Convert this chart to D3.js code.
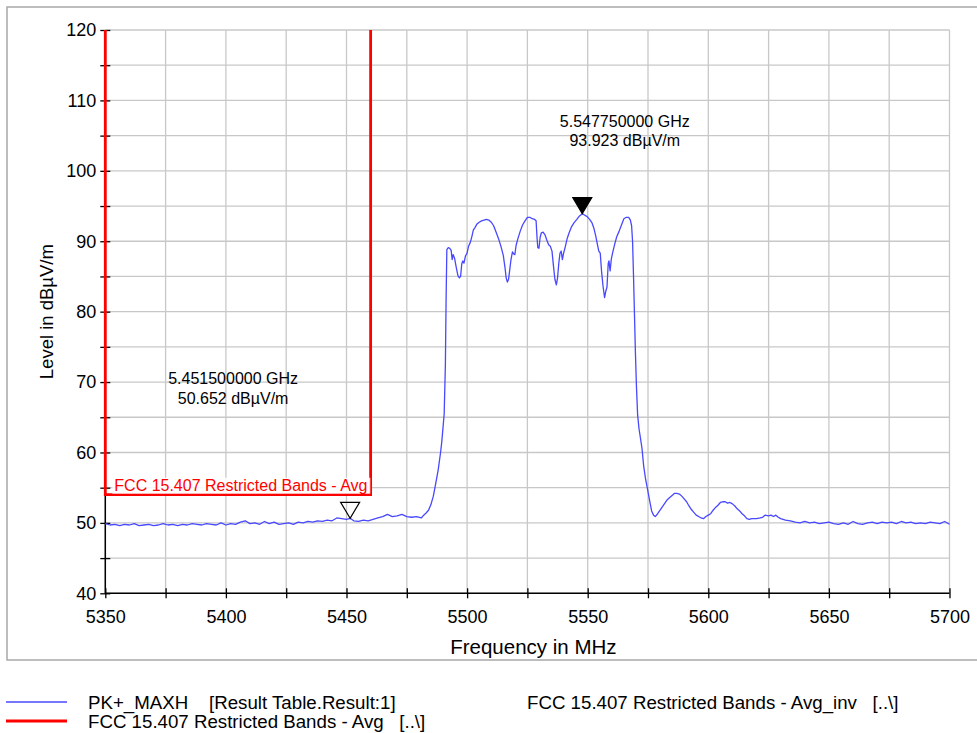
<!DOCTYPE html>
<html><head><meta charset="utf-8">
<script src="https://cdn.jsdelivr.net/npm/d3@7"></script>
<style>
body{margin:0;background:#fff;}
svg{display:block;font-family:"Liberation Sans",Arial,sans-serif;}
</style>
</head><body>
<svg id="c" width="977" height="733"></svg>
<script>
// ---- data ----
const freqMHz = [
5350,5352,5354,5356,5358,5360,5362,5364,5366,5368,5370,5372,5374,5376,5378,5380,5382,5384,5386,5388,
5390,5392,5394,5396,5398,5400,5402,5404,5406,5408,5410,5412,5414,5416,5418,5420,5422,5424,5426,5428,
5430,5432,5434,5436,5438,5440,5442,5444,5446,5448,5450,5451.5,5453,5455,5457,5459,5461,5463,5465,5467,
5469,5471,5473,5475,5477,5479,5481,5482,5483,5484,5485,5486,5487,5488,5489,5489.5,5490,5490.5,5491,5491.3,
5491.6,5492.2,5492.8,5493.4,5493.8,5494.2,5494.8,5495.5,5496.2,5496.8,5497.3,5497.8,5498.2,5498.7,5499.3,5500,5500.6,5501.3,5502,5502.6,
5503.2,5504,5505,5506,5507,5508,5509,5510,5511,5512,5513,5514,5515,5515.7,5516.2,5516.7,5517.2,5517.7,5518.2,5518.8,
5519.3,5519.8,5520.3,5521,5522,5523,5524,5525,5526,5527,5528,5528.6,5529,5529.3,5529.8,5530.3,5530.8,5531.5,5532.3,5533,
5533.8,5534.5,5535.2,5535.8,5536.4,5537,5537.5,5538,5538.5,5539,5539.5,5540,5540.7,5541.5,5542.3,5543.2,5544.3,5545.5,5546.6,5547.75,
5548.8,5549.8,5550.8,5551.8,5552.6,5553.3,5554,5554.6,5555.2,5555.8,5556.4,5557,5557.5,5558,5558.5,5558.8,5559.3,5559.8,5560.5,5561.2,
5562,5563,5564,5565,5566,5567,5567.7,5568.2,5568.6,5569,5569.4,5569.8,5570.2,5570.7,5571.3,5571.8,5572.5,5573.2,5574,5574.8,
5575.6,5576.5,5577.3,5578,5579,5580,5581,5582,5583,5584,5585,5586,5587,5588,5589,5590,5591,5592,5593,5594,
5595,5596,5597,5598,5599,5600,5601,5602,5603,5604,5605,5606,5607,5608,5609,5610,5611,5612,5613,5614,
5615,5616,5617,5618,5620,5621.5,5622.5,5623.5,5625,5626,5627,5628,5629,5630,5631,5632,5634,5636,5638,5640,
5642,5644,5646,5648,5650,5652,5654,5656,5658,5660,5662,5664,5666,5668,5670,5672,5674,5676,5678,5680,
5682,5684,5686,5688,5690,5692,5694,5696,5698,5700];
const levelDb = [
49.9,49.7,49.8,49.6,49.8,49.7,49.9,49.6,49.7,49.8,49.6,49.7,49.9,49.7,49.8,49.6,49.8,49.7,49.9,49.8,
49.7,49.9,49.8,49.7,50.0,49.7,49.9,49.8,50.1,50.3,49.9,50.0,49.8,50.2,49.9,50.1,49.8,49.9,50.0,49.8,
50.1,50.0,50.2,50.1,50.3,50.2,50.4,50.3,50.7,50.6,50.5,50.65,50.3,50.2,50.4,50.3,50.5,50.7,50.9,51.2,
50.9,51.0,51.2,50.9,50.8,50.9,50.7,51.1,51.4,51.8,52.6,53.8,55.6,57.5,60.0,61.5,63.5,65.5,72.5,82.0,
88.8,89.1,89.0,88.7,87.4,88.1,87.6,86.3,85.1,84.8,85.0,86.8,87.2,86.9,87.9,88.3,89.3,89.8,90.7,91.6,
91.9,92.4,92.7,92.9,93.0,93.1,93.0,92.7,92.2,91.3,90.4,89.3,88.0,86.3,84.8,84.2,84.6,86.0,87.4,88.5,
88.2,88.1,89.4,90.3,91.4,92.3,92.9,93.4,93.4,93.2,93.1,92.9,90.5,89.1,89.0,90.6,91.2,91.3,90.9,90.2,
89.5,89.3,88.6,86.5,84.6,83.8,84.8,86.8,88.3,88.6,87.4,88.3,89.2,90.4,91.2,92.0,92.6,93.1,93.6,93.92,
93.7,93.5,93.1,92.6,91.8,90.8,89.6,88.6,88.3,85.5,83.5,82.0,82.9,83.5,86.8,87.2,85.8,87.5,88.6,89.6,
90.6,91.4,92.3,93.2,93.4,93.4,93.0,92.2,90.0,85.0,79.5,74.0,69.5,65.3,63.3,62.2,60.6,58.1,56.2,54.8,
53.3,51.7,51.1,50.9,51.3,51.8,52.3,52.8,53.3,53.6,53.9,54.2,54.2,54.1,53.8,53.4,53.0,52.4,51.9,51.5,
51.1,50.9,50.7,50.6,50.9,51.1,51.3,51.8,52.2,52.5,52.9,53.0,53.0,52.8,52.9,52.7,52.4,52.0,51.7,51.3,
51.0,50.6,50.5,50.6,50.6,50.7,50.8,51.1,51.0,51.1,50.9,51.1,50.8,50.6,50.5,50.4,50.3,50.1,50.0,50.2,
50.0,50.1,49.9,50.0,50.1,49.9,49.8,50.0,49.8,50.2,49.9,49.8,50.0,50.1,49.9,50.1,50.0,50.1,49.9,50.2,
50.0,50.1,49.9,50.0,49.9,50.1,50.0,49.9,50.2,49.8];
const limitFreq = [5350, 5350, 5460, 5460];
const limitLevel = [120, 54, 54, 120];
const markerFreq = [5547.75, 5451.5];
const markerLevel = [93.923, 50.652];
const markerText = [["5.547750000 GHz", "93.923 dBµV/m"], ["5.451500000 GHz", "50.652 dBµV/m"]];
const markerFilled = [true, false];
const xDomain = [5350, 5700];
const yDomain = [40, 120];
const xTickValues = d3.range(5350, 5701, 25);
const yTickValues = d3.range(40, 121, 5);
const xLabel = "Frequency in MHz";
const yLabel = "Level in dBµV/m";
const limitLabel = "FCC 15.407 Restricted Bands - Avg";
const legendItems = [
  {text: "PK+_MAXH    [Result Table.Result:1]", color: "#4848ff", w: 1.5, col: 0, row: 0},
  {text: "FCC 15.407 Restricted Bands - Avg   [..\\]", color: "#ff0000", w: 3, col: 0, row: 1},
  {text: "FCC 15.407 Restricted Bands - Avg_inv   [..\\]", color: null, w: 0, col: 1, row: 0}
];

// ---- drawing ----
const svg = d3.select("#c");
const L = 105.3, R = 949.5, T = 30, B = 593.3;
const x = d3.scaleLinear().domain(xDomain).range([L, R]);
const y = d3.scaleLinear().domain(yDomain).range([B, T]);

// panel frame
svg.append("rect").attr("x", 7).attr("y", 7).attr("width", 990).attr("height", 653)
  .attr("fill", "#fff").attr("stroke", "#a8a8a8").attr("stroke-width", 1.5);

// grid
const g = svg.append("g");
g.selectAll(".vg").data(xTickValues).join("line")
  .attr("x1", d => x(d)).attr("x2", d => x(d)).attr("y1", T).attr("y2", B)
  .attr("stroke", "#c8c8c8").attr("stroke-width", 1.3);
g.selectAll(".hg").data(yTickValues).join("line")
  .attr("x1", L).attr("x2", R).attr("y1", d => y(d)).attr("y2", d => y(d))
  .attr("stroke", "#c8c8c8").attr("stroke-width", 1.3);

// axes
const xAxis = d3.axisBottom(x).tickValues(xTickValues).tickSize(5).tickPadding(12)
  .tickFormat(d => d % 50 === 0 ? d3.format("d")(d) : "");
const gx = svg.append("g").attr("transform", `translate(0,${B})`).call(xAxis);
gx.select(".domain").attr("stroke", "#000").attr("stroke-width", 1.5).attr("d", `M${L},0H${R}`);
gx.selectAll(".tick line").attr("y1", -5).attr("y2", 5).attr("stroke", "#000").attr("stroke-width", 1.3);
gx.selectAll(".tick text").attr("font-size", 18).attr("fill", "#000")
  .attr("font-family", '"Liberation Sans",Arial,sans-serif');

const yAxis = d3.axisLeft(y).tickValues(yTickValues).tickSize(5).tickPadding(4)
  .tickFormat(d => d % 10 === 0 ? d3.format("d")(d) : "");
const gy = svg.append("g").attr("transform", `translate(${L},0)`).call(yAxis);
gy.select(".domain").attr("stroke", "#000").attr("stroke-width", 1.5).attr("d", `M0,${T}V${B}`);
gy.selectAll(".tick line").attr("x1", -5).attr("x2", 5).attr("stroke", "#000").attr("stroke-width", 1.3);
gy.selectAll(".tick text").attr("font-size", 18).attr("fill", "#000")
  .attr("font-family", '"Liberation Sans",Arial,sans-serif');

// axis titles
svg.append("text").attr("x", (L + R) / 2 + 6).attr("y", 654).attr("text-anchor", "middle")
  .attr("font-size", 20.5).text(xLabel);
svg.append("text").attr("transform", `translate(53,${(T + B) / 2}) rotate(-90)`)
  .attr("text-anchor", "middle").attr("font-size", 18.5).text(yLabel);

// trace
const idx = d3.range(freqMHz.length);
svg.append("path").datum(idx)
  .attr("d", d3.line().x(i => x(freqMHz[i])).y(i => y(levelDb[i])))
  .attr("fill", "none").attr("stroke", "#4848ff").attr("stroke-width", 1.3)
  .attr("stroke-linejoin", "round");

// limit line
const li = d3.range(limitFreq.length);
svg.append("path").datum(li)
  .attr("d", d3.line().x(i => x(limitFreq[i])).y(i => y(limitLevel[i])))
  .attr("fill", "none").attr("stroke", "#ff0000").attr("stroke-width", 2.8);

// limit label
const lblX = x(limitFreq[0]) + 9, lblY = y(limitLevel[1]) - 4;
svg.append("rect").attr("x", lblX - 2).attr("y", lblY - 13).attr("width", 258).attr("height", 16)
  .attr("fill", "#fff").attr("opacity", 0.85);
svg.append("text").attr("x", lblX).attr("y", lblY).attr("font-size", 16).attr("fill", "#ff0000")
  .text(limitLabel);

// markers
const mOffsets = [{dx: 42.5, dy: -87}, {dx: -117, dy: -134}];
markerFreq.forEach((f, i) => {
  const mx = x(f), my = y(markerLevel[i]);
  const w = 9.5, h = 16;
  svg.append("path")
    .attr("d", `M${mx},${my}L${mx - w},${my - h}L${mx + w},${my - h}Z`)
    .attr("fill", markerFilled[i] ? "#000" : "#fff")
    .attr("fill-opacity", markerFilled[i] ? 1 : 0)
    .attr("stroke", "#000").attr("stroke-width", 1.2);
  const t = svg.append("text").attr("text-anchor", "middle").attr("font-size", 16);
  markerText[i].forEach((s, k) => {
    t.append("tspan").attr("x", mx + mOffsets[i].dx).attr("y", my + mOffsets[i].dy + k * 19.5).text(s);
  });
});

// legend
const lg = svg.append("g");
legendItems.forEach(it => {
  const bx = it.col === 0 ? 4 : 443;
  const by = 702 + it.row * 19;
  if (it.color) {
    lg.append("line").attr("x1", bx + 2).attr("x2", bx + 63).attr("y1", by).attr("y2", by)
      .attr("stroke", it.color).attr("stroke-width", it.w);
  }
  lg.append("text").attr("x", bx + 84).attr("y", by + 7).attr("font-size", 18.7)
    .attr("xml:space", "preserve").style("white-space", "pre").text(it.text);
});
</script>
</body></html>
